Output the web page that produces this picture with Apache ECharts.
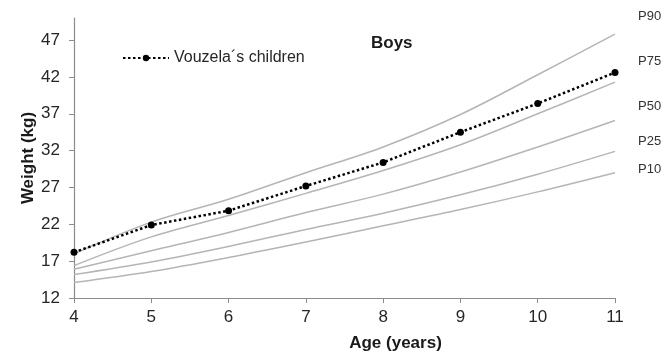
<!DOCTYPE html>
<html>
<head>
<meta charset="utf-8">
<script src="https://cdn.jsdelivr.net/npm/echarts@6/dist/echarts.min.js"></script>
<style>html,body{margin:0;padding:0;background:#fff}#c{width:669px;height:359px}</style>
</head>
<body>
<div id="c"></div>
<script>
var ages = [4, 5, 6, 7, 8, 9, 10, 11];
var vouzela = [18.2, 21.9, 23.85, 27.2, 30.4, 34.5, 38.4, 42.6];
var p90 = [18.0, 22.3, 25.4, 29.0, 32.5, 36.9, 42.3, 47.8];
var p75 = [16.4, 20.3, 23.2, 26.2, 29.3, 32.8, 37.0, 41.3];
var p50 = [15.9, 18.4, 20.9, 23.6, 26.1, 29.1, 32.5, 36.1];
var p25 = [15.2, 16.9, 19.0, 21.3, 23.5, 26.0, 28.8, 31.9];
var p10 = [14.1, 15.6, 17.5, 19.6, 21.8, 24.0, 26.4, 29.0];
var yTicks = [12, 17, 22, 27, 32, 37, 42, 47];
var xTicks = [4, 5, 6, 7, 8, 9, 10, 11];
var pLabels = ['P90', 'P75', 'P50', 'P25', 'P10'];

function pairs(ys) { return ages.map(function (a, i) { return [a, ys[i]]; }); }

var chart = echarts.init(document.getElementById('c'), null, {renderer: 'canvas'});
var grey = '#b5b5b5';
function pSeries(name, ys) {
  return {
    name: name, type: 'line', data: pairs(ys), smooth: 0.35, showSymbol: false,
    lineStyle: {color: grey, width: 1.5}, itemStyle: {color: grey}, z: 2, silent: true
  };
}
var pPos = [17, 62, 107, 142, 170];
chart.setOption({
  animation: false,
  textStyle: {fontFamily: 'Liberation Sans'},
  grid: {left: 74, right: 54, top: 18, bottom: 61, containLabel: false},
  title: {
    text: 'Boys', left: 366, top: 30,
    textStyle: {fontSize: 17, fontWeight: 'bold', color: '#1a1a1a', fontFamily: 'Liberation Sans'}
  },
  legend: {
    data: ['Vouzela´s children'], left: 117, top: 45, itemWidth: 46, itemHeight: 8, itemGap: 2,
    textStyle: {fontSize: 16, color: '#262626', fontFamily: 'Liberation Sans'}
  },
  xAxis: {
    type: 'value', min: 4, max: 11, interval: 1,
    name: 'Age (years)', nameLocation: 'middle', nameGap: 37,
    nameTextStyle: {fontSize: 17, fontWeight: 'bold', color: '#1a1a1a', padding: [0, 0, 0, 102]},
    axisLine: {lineStyle: {color: '#8c8c8c', width: 1.2}},
    axisTick: {show: true, length: 5, lineStyle: {color: '#8c8c8c'}, customValues: xTicks},
    axisLabel: {fontSize: 17, color: '#262626', margin: 11, customValues: xTicks},
    splitLine: {show: false}
  },
  yAxis: {
    type: 'value', min: 12, max: 50, interval: 5,
    name: 'Weight (kg)', nameLocation: 'middle', nameGap: 37, nameRotate: 90, nameMoveOverlap: false,
    nameTextStyle: {fontSize: 17, fontWeight: 'bold', color: '#1a1a1a'},
    axisLine: {show: true, lineStyle: {color: '#8c8c8c', width: 1.2}},
    axisTick: {show: true, length: 5, lineStyle: {color: '#8c8c8c'}, customValues: yTicks},
    axisLabel: {fontSize: 17, color: '#262626', margin: 14, customValues: yTicks},
    splitLine: {show: false}
  },
  graphic: pLabels.map(function (t, i) {
    return {
      type: 'text', left: 638, top: pPos[i] - 7,
      style: {text: t, fontSize: 13, fill: '#333', fontFamily: 'Liberation Sans'}
    };
  }),
  series: [
    pSeries('P90', p90), pSeries('P75', p75), pSeries('P50', p50), pSeries('P25', p25), pSeries('P10', p10),
    {
      name: 'Vouzela´s children', type: 'line', data: pairs(vouzela),
      symbol: 'circle', symbolSize: 7, showSymbol: true, z: 5,
      lineStyle: {color: '#000', width: 2.5, type: [2.5, 2.5]},
      itemStyle: {color: '#000'}
    }
  ]
});
</script>
</body>
</html>
